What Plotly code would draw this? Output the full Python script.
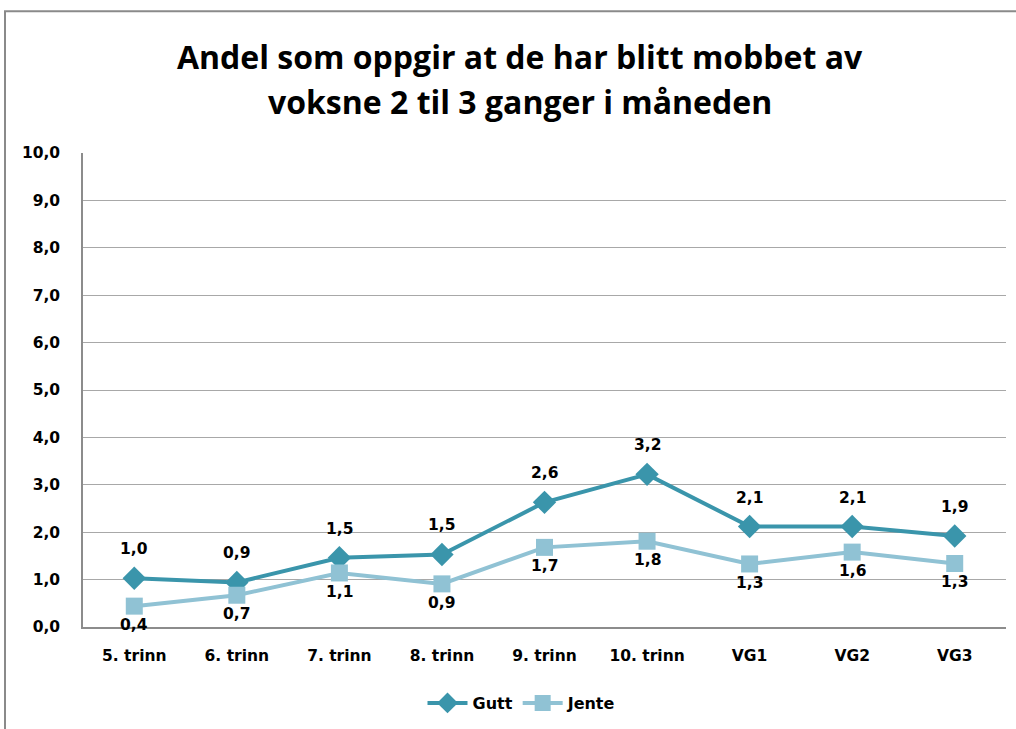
import plotly.graph_objects as go

categories = ["5. trinn", "6. trinn", "7. trinn", "8. trinn", "9. trinn", "10. trinn", "VG1", "VG2", "VG3"]
gutt = [1.03, 0.94, 1.46, 1.53, 2.63, 3.22, 2.12, 2.12, 1.92]
jente = [0.44, 0.67, 1.14, 0.91, 1.68, 1.81, 1.33, 1.58, 1.34]
y_ticks = [0, 1, 2, 3, 4, 5, 6, 7, 8, 9, 10]
title_lines = ["Andel som oppgir at de har blitt mobbet av", "voksne 2 til 3 ganger i måneden"]

GUTT_C = "#3A95AB"
JENTE_C = "#90C2D4"
W, H = 1016, 729
L, R, T, B = 83, 10, 153, 101
pw = W - L - R
ph = H - T - B

fig = go.Figure()
fig.add_trace(go.Scatter(x=categories, y=gutt, name="Gutt", mode="lines+markers",
                         line=dict(color=GUTT_C, width=4),
                         marker=dict(symbol="diamond", size=18, color=GUTT_C)))
fig.add_trace(go.Scatter(x=categories, y=jente, name="Jente", mode="lines+markers",
                         line=dict(color=JENTE_C, width=4),
                         marker=dict(symbol="square", size=17, color=JENTE_C)))

lab_font = dict(family="DejaVu Sans", size=15.5, color="#000000", weight="bold")
for c, v in zip(categories, gutt):
    fig.add_annotation(x=c, y=v, text=f"{v:.1f}".replace(".", ","), showarrow=False,
                       yshift=29, font=lab_font)
for c, v in zip(categories, jente):
    fig.add_annotation(x=c, y=v, text=f"{v:.1f}".replace(".", ","), showarrow=False,
                       yshift=-19, font=lab_font)

title_font = dict(family="Open Sans, Lato", size=32, color="#000000", weight="bold")
for i, line in enumerate(title_lines):
    yc = 56 + 45 * i
    fig.add_annotation(xref="paper", yref="paper", x=(520 - L) / pw, y=(H - B - yc) / ph,
                       xanchor="center", yanchor="middle", text=line, showarrow=False,
                       font=title_font)

fig.add_shape(type="rect", xref="paper", yref="paper",
              x0=(5 - L) / pw, x1=(W + 20 - L) / pw,
              y0=(H - B - (H + 20)) / ph, y1=(H - B - 11) / ph,
              line=dict(color="#8a8a8a", width=2), fillcolor="rgba(0,0,0,0)", layer="below")

fig.update_layout(
    width=W, height=H,
    margin=dict(l=L, r=R, t=T, b=B),
    paper_bgcolor="white", plot_bgcolor="white",
    showlegend=True,
    legend=dict(orientation="h", x=(522 - L) / pw, xanchor="center", y=-(703 - (H - B)) / ph, yanchor="middle",
                font=dict(family="DejaVu Sans", size=16, color="#000000", weight="bold"),
                itemwidth=40, bgcolor="rgba(0,0,0,0)"),
    xaxis=dict(type="category", range=[-0.5, len(categories) - 0.5], showgrid=False,
               showline=True, linecolor="#8c8c8c", linewidth=1.5, ticks="",
               tickfont=dict(family="DejaVu Sans", size=15.5, color="#000000", weight="bold"),
               ticklabelstandoff=14),
    yaxis=dict(range=[0, 10], tickvals=y_ticks,
               ticktext=[f"{t:.1f}".replace(".", ",") for t in y_ticks],
               showgrid=True, gridcolor="#a8a8a8", gridwidth=1,
               showline=True, linecolor="#8c8c8c", linewidth=1.5, zeroline=False, ticks="",
               tickfont=dict(family="DejaVu Sans", size=15.5, color="#000000", weight="bold"),
               ticklabelstandoff=18),
)

fig.write_html("out.html", config={"displayModeBar": False},
               post_script="document.body.style.margin='0';")
